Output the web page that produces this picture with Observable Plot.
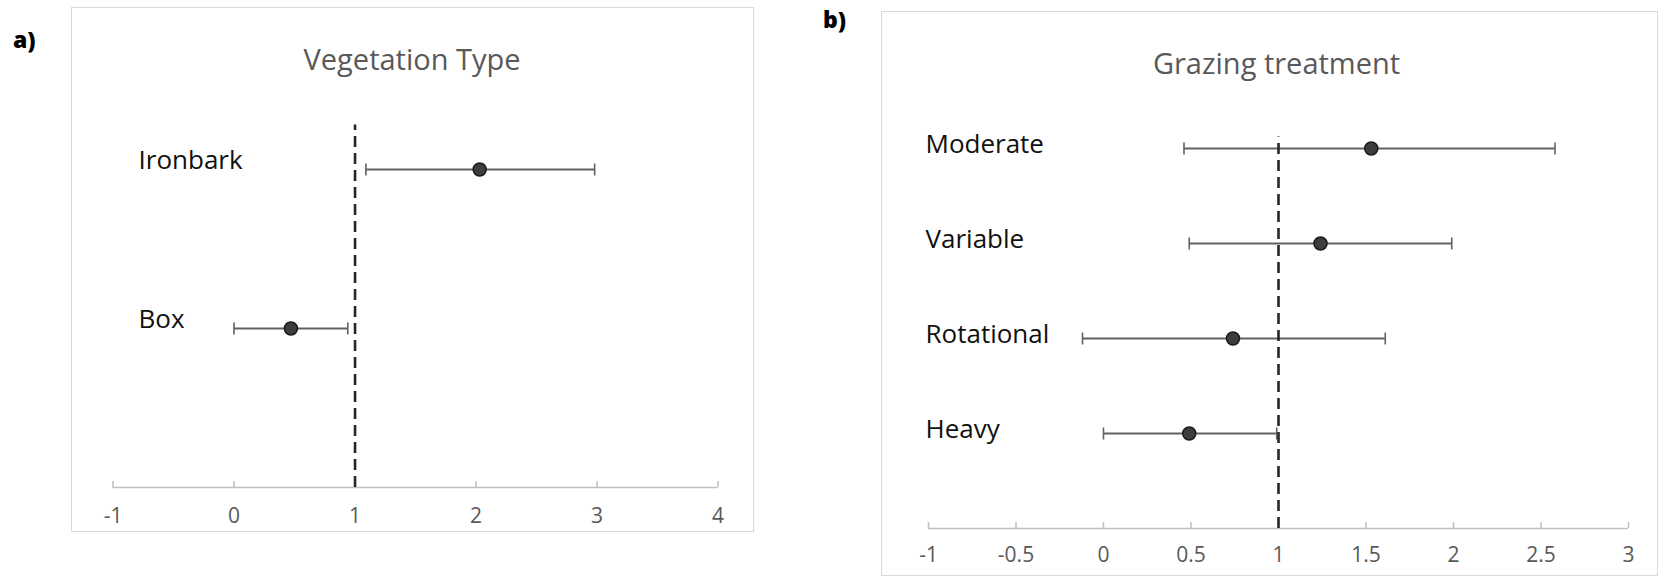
<!DOCTYPE html>
<html>
<head>
<meta charset="utf-8">
<script src="https://cdn.jsdelivr.net/npm/d3@7"></script>
<script src="https://cdn.jsdelivr.net/npm/@observablehq/plot@0.6"></script>
<style>
  body { margin: 0; background: #fff; width: 1661px; height: 576px; position: relative; overflow: hidden; font-family: "Open Sans", sans-serif; }
  .panel { position: absolute; border: 1px solid #d9d9d9; }
  .panel svg { display: block; }
  .tag { position: absolute; font-weight: 800; font-size: 23px; line-height: 1; color: #000; }
</style>
</head>
<body>
<div class="tag" style="left:13px;top:28px;">a)</div>
<div class="tag" style="left:823px;top:8px;">b)</div>
<div class="panel" id="panelA" style="left:71px;top:7px;"></div>
<div class="panel" id="panelB" style="left:881px;top:11px;"></div>
<script>
// Odds ratios with 95% confidence intervals, by vegetation type
const vegCategories = ["Ironbark", "Box"];
const vegEstimate = [2.03, 0.47];
const vegLower = [1.09, 0.0];
const vegUpper = [2.98, 0.94];
const vegTicks = [-1, 0, 1, 2, 3, 4];
const vegRefTop = 2.28;

// Odds ratios with 95% confidence intervals, by grazing treatment
const grazeCategories = ["Moderate", "Variable", "Rotational", "Heavy"];
const grazeEstimate = [1.53, 1.24, 0.74, 0.49];
const grazeLower = [0.46, 0.49, -0.12, 0.0];
const grazeUpper = [2.58, 1.99, 1.61, 0.99];
const grazeTicks = [-1, -0.5, 0, 0.5, 1, 1.5, 2, 2.5, 3];
const grazeRefTop = 4.12;

// no-effect reference value
const referenceValue = 1;

// vertical bar used as the error-bar end cap
const capSymbol = {
  draw(ctx, size) {
    const r = Math.sqrt(size / Math.PI);
    ctx.moveTo(0, -r);
    ctx.lineTo(0, r);
  }
};

function forestPanel(cfg) {
  const {title, categories, estimate, lower, upper, ticks, refTop, yMax} = cfg;
  const n = categories.length;
  const rows = categories.map((name, i) => ({name, pos: n - i, est: estimate[i], lo: lower[i], hi: upper[i]}));
  const barColor = "#626262";
  return Plot.plot({
    width: cfg.width,
    height: cfg.height,
    marginLeft: cfg.marginLeft,
    marginRight: cfg.marginRight,
    marginTop: cfg.marginTop,
    marginBottom: cfg.marginBottom,
    style: {fontFamily: "'Open Sans', sans-serif", color: "#595959", background: "transparent", overflow: "visible"},
    x: {domain: [ticks[0], ticks[ticks.length - 1]], label: null},
    y: {domain: [0, yMax], label: null},
    marks: [
      Plot.ruleY([0], {stroke: "#bfbfbf", strokeWidth: 1.5}),
      Plot.axisX({ticks, tickSize: -6, tickPadding: cfg.tickOffset + 6, stroke: "#bfbfbf", strokeWidth: 1.5,
        fontSize: 21, fill: "#595959", tickFormat: d => String(d), label: null}),
      Plot.axisY({ticks: rows.map(d => d.pos), tickFormat: p => categories[n - p], tickSize: 0, tickPadding: 0,
        textAnchor: "start", dx: cfg.labelDx, dy: cfg.labelDy, fontSize: 26, fill: "#111", label: null}),
      Plot.ruleY(rows, {y: "pos", x1: "lo", x2: "hi", stroke: barColor, strokeWidth: 2.2}),
      Plot.dot(rows, {x: "lo", y: "pos", symbol: capSymbol, r: 6, stroke: barColor, strokeWidth: 1.6, fill: "none"}),
      Plot.dot(rows, {x: "hi", y: "pos", symbol: capSymbol, r: 6, stroke: barColor, strokeWidth: 1.6, fill: "none"}),
      Plot.ruleX([{x: referenceValue, top: refTop}], {x: "x", y1: 0, y2: "top", stroke: "#262626", strokeWidth: 2.6, strokeDasharray: "11,6"}),
      Plot.dot(rows, {x: "est", y: "pos", r: 6.5, fill: "#3d3d3d", stroke: "#1a1a1a", strokeWidth: 1.5}),
      Plot.text([title], {frameAnchor: "top", dx: cfg.titleDx, dy: cfg.titleDy, fontSize: 29, fill: "#595959"})
    ]
  });
}

document.getElementById("panelA").append(forestPanel({
  title: "Vegetation Type",
  categories: vegCategories, estimate: vegEstimate, lower: vegLower, upper: vegUpper,
  ticks: vegTicks, refTop: vegRefTop, yMax: 2.5,
  width: 681, height: 523,
  marginLeft: 40.5, marginRight: 35.4, marginTop: 81.5, marginBottom: 44,
  tickOffset: 21, labelDx: 25.5, labelDy: -9, titleDx: -3.5, titleDy: -41
}));

document.getElementById("panelB").append(forestPanel({
  title: "Grazing treatment",
  categories: grazeCategories, estimate: grazeEstimate, lower: grazeLower, upper: grazeUpper,
  ticks: grazeTicks, refTop: grazeRefTop, yMax: 4.5,
  width: 775, height: 563,
  marginLeft: 46, marginRight: 29, marginTop: 88.5, marginBottom: 47,
  tickOffset: 19, labelDx: -3, labelDy: -4, titleDx: -2, titleDy: -47.5
}));
</script>
</body>
</html>
